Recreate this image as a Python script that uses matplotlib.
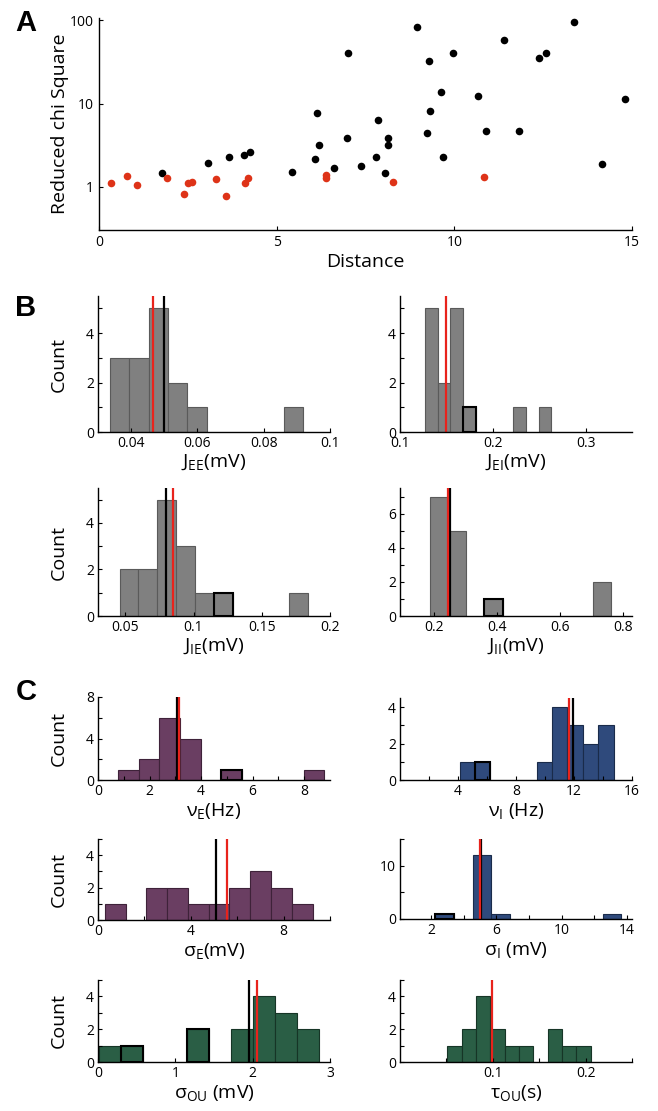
import matplotlib
matplotlib.use('Agg')
import matplotlib.pyplot as plt
import numpy as np

plt.rcParams['font.family'] = ['Open Sans', 'DejaVu Sans']
plt.rcParams['mathtext.default'] = 'regular'
plt.rcParams['axes.linewidth'] = 1.0

W, H = 658, 1111

# ---- panel A data: distance vs reduced chi square ----
black_dist = [1.78, 3.08, 3.66, 4.07, 4.24, 5.44, 6.09, 6.13, 6.20, 6.60, 6.98, 7.02,
              7.38, 7.79, 7.84, 8.06, 8.12, 8.13, 8.94, 9.23, 9.28, 9.32, 9.63, 9.69,
              9.96, 10.68, 10.90, 11.39, 11.82, 12.38, 12.57, 13.38, 14.16, 14.79]
black_chi = [1.47, 1.91, 2.25, 2.40, 2.61, 1.51, 2.15, 7.59, 3.13, 1.68, 3.87, 40.9,
             1.77, 2.29, 6.37, 1.47, 3.84, 3.13, 83.2, 4.37, 32.2, 8.17, 13.9, 2.25,
             40.9, 12.4, 4.61, 57.5, 4.61, 35.0, 40.6, 95.5, 1.85, 11.2]
red_dist = [0.34, 0.78, 1.07, 1.92, 2.40, 2.50, 2.63, 3.29, 3.58, 4.12, 4.20, 6.40,
            6.40, 8.28, 10.84]
red_chi = [1.11, 1.34, 1.05, 1.28, 0.82, 1.11, 1.14, 1.24, 0.77, 1.09, 1.26, 1.39,
           1.27, 1.13, 1.29]

# ---- histogram data (bin edges, counts, outlined bins, red / black lines) ----
jee_edges = [0.0337, 0.0395, 0.0453, 0.0512, 0.0570, 0.0628, 0.0687, 0.0745, 0.0803, 0.0862, 0.0920]
jee_counts = [3, 3, 5, 2, 1, 0, 0, 0, 0, 1]
jee_outl, jee_red, jee_black = [], 0.0467, 0.0498

jei_edges = [0.1271, 0.1407, 0.1543, 0.1679, 0.1814, 0.1950, 0.2086, 0.2221, 0.2357, 0.2493, 0.2629]
jei_counts = [5, 2, 5, 1, 0, 0, 0, 1, 0, 1]
jei_outl, jei_red, jei_black = [3], 0.150, None

jie_edges = [0.0458, 0.0596, 0.0735, 0.0875, 0.1012, 0.1147, 0.1287, 0.1425, 0.1563, 0.1699, 0.1838]
jie_counts = [2, 2, 5, 3, 1, 1, 0, 0, 0, 1]
jie_outl, jie_red, jie_black = [5], 0.0850, 0.0801

jii_edges = [0.186, 0.243, 0.301, 0.359, 0.417, 0.474, 0.532, 0.590, 0.647, 0.705, 0.763]
jii_counts = [7, 5, 0, 1, 0, 0, 0, 0, 0, 2]
jii_outl, jii_red, jii_black = [3], 0.243, 0.248

nue_edges = [0.78, 1.58, 2.38, 3.18, 3.98, 4.78, 5.58, 6.38, 7.18, 7.98, 8.78]
nue_counts = [1, 2, 6, 4, 0, 1, 0, 0, 0, 1]
nue_outl, nue_red, nue_black = [5], 3.13, 3.07

nui_edges = [4.11, 5.17, 6.24, 7.30, 8.36, 9.42, 10.49, 11.55, 12.61, 13.67, 14.74]
nui_counts = [1, 1, 0, 0, 0, 1, 4, 3, 2, 3]
nui_outl, nui_red, nui_black = [1], 11.63, 11.93

sge_edges = [0.31, 1.20, 2.09, 2.98, 3.88, 4.77, 5.66, 6.56, 7.45, 8.35, 9.25]
sge_counts = [1, 0, 2, 2, 1, 1, 2, 3, 2, 1]
sge_outl, sge_red, sge_black = [], 5.57, 5.07

sgi_edges = [2.26, 3.40, 4.54, 5.67, 6.81, 7.95, 9.09, 10.23, 11.37, 12.51, 13.64]
sgi_counts = [1, 0, 12, 1, 0, 0, 0, 0, 0, 1]
sgi_outl, sgi_red, sgi_black = [0], 4.97, 5.05

sou_edges = [0.013, 0.298, 0.583, 0.868, 1.153, 1.438, 1.723, 2.008, 2.293, 2.578, 2.863]
sou_counts = [1, 1, 0, 0, 2, 0, 2, 4, 3, 2]
sou_outl, sou_red, sou_black = [1, 4], 2.05, 1.95

tou_edges = [0.0509, 0.0664, 0.0818, 0.0973, 0.1128, 0.1283, 0.1437, 0.1592, 0.1747, 0.1901, 0.2056]
tou_counts = [1, 2, 4, 2, 1, 1, 0, 2, 1, 1]
tou_outl, tou_red, tou_black = [], 0.0989, None

GRAY, GRAY_E = '#808080', '#5a5a5a'
PURPLE, PURPLE_E = '#6a3e62', '#3e2239'
BLUE, BLUE_E = '#2f4a7c', '#1a2b4a'
GREEN, GREEN_E = '#2a5e45', '#163526'
RED = '#e8231c'
DOT_RED = '#de3318'


def box(l, t, r, b):
    return [l / W, 1 - b / H, (r - l) / W, (b - t) / H]


def ticks(ax, which, pos, labels):
    lab = [str(p) if p in labels else '' for p in pos]
    if which == 'x':
        ax.set_xticks(pos)
        ax.set_xticklabels(lab)
    else:
        ax.set_yticks(pos)
        ax.set_yticklabels(lab)


def hist_panel(rect, edges, counts, outl, red, black, fc, ec, xlim, xt, xl, ylim, yt, yl,
               xlabel, count=False):
    ax = fig.add_axes(box(*rect))
    edges = np.array(edges)
    counts = np.array(counts)
    left = edges[:-1]
    width = np.diff(edges)
    keep = counts > 0
    ax.bar(left[keep], counts[keep], width=width[keep], align='edge',
           color=fc, edgecolor=ec, linewidth=0.8)
    for i in outl:
        ax.bar(left[i], counts[i], width=width[i], align='edge', fill=False,
               edgecolor='black', linewidth=1.5)
    if black is not None:
        ax.plot([black, black], [0, ylim[1]], color='black', lw=1.6)
    if red is not None:
        ax.plot([red, red], [0, ylim[1]], color=RED, lw=1.6)
    ax.set_xlim(xlim)
    ax.set_ylim(ylim)
    ticks(ax, 'x', xt, xl)
    ticks(ax, 'y', yt, yl)
    for s in ('top', 'right'):
        ax.spines[s].set_visible(False)
    ax.tick_params(direction='in', length=3, labelsize=10, pad=3)
    ax.set_xlabel(xlabel, fontsize=14, labelpad=1)
    if count:
        ax.set_ylabel('Count', fontsize=14, labelpad=13)
    return ax


fig = plt.figure(figsize=(W / 100, H / 100), dpi=100)

# ---- panel A ----
axA = fig.add_axes(box(99, 18, 632, 230))
axA.scatter(black_dist, black_chi, s=30, color='black', zorder=3, linewidths=0)
axA.scatter(red_dist, red_chi, s=30, color=DOT_RED, zorder=3, linewidths=0)
axA.set_yscale('log')
axA.set_xlim(0, 15)
axA.set_ylim(0.3, 107)
axA.set_xticks([0, 5, 10, 15])
axA.set_xticklabels(['0', '5', '10', '15'])
axA.set_yticks([1, 10, 100])
axA.set_yticklabels(['1', '10', '100'])
axA.yaxis.set_minor_locator(matplotlib.ticker.NullLocator())
for s in ('top', 'right'):
    axA.spines[s].set_visible(False)
axA.tick_params(direction='in', length=3, labelsize=10)
axA.set_xlabel('Distance', fontsize=14, labelpad=2)
axA.set_ylabel('Reduced chi Square', fontsize=14, labelpad=1)

# ---- panel B ----
hist_panel((98, 296, 330, 432), jee_edges, jee_counts, jee_outl, jee_red, jee_black,
           GRAY, GRAY_E, (0.03, 0.1), [0.04, 0.06, 0.08, 0.1], [0.04, 0.06, 0.08, 0.1],
           (0, 5.5), [0, 1, 2, 3, 4, 5], [0, 2, 4], 'J$_{EE}$(mV)', count=True)
hist_panel((400, 296, 632, 432), jei_edges, jei_counts, jei_outl, jei_red, jei_black,
           GRAY, GRAY_E, (0.1, 0.35), [0.1, 0.2, 0.3], [0.1, 0.2, 0.3],
           (0, 5.5), [0, 1, 2, 3, 4, 5], [0, 2, 4], 'J$_{EI}$(mV)')
hist_panel((98, 488, 330, 616), jie_edges, jie_counts, jie_outl, jie_red, jie_black,
           GRAY, GRAY_E, (0.03, 0.2), [0.05, 0.1, 0.15, 0.2], [0.05, 0.1, 0.15, 0.2],
           (0, 5.5), [0, 1, 2, 3, 4, 5], [0, 2, 4], 'J$_{IE}$(mV)', count=True)
hist_panel((400, 488, 632, 616), jii_edges, jii_counts, jii_outl, jii_red, jii_black,
           GRAY, GRAY_E, (0.09, 0.83), [0.2, 0.4, 0.6, 0.8], [0.2, 0.4, 0.6, 0.8],
           (0, 7.5), [0, 1, 2, 3, 4, 5, 6, 7], [0, 2, 4, 6], 'J$_{II}$(mV)')

# ---- panel C ----
hist_panel((98, 697, 330, 780), nue_edges, nue_counts, nue_outl, nue_red, nue_black,
           PURPLE, PURPLE_E, (0, 9), [0, 1, 2, 3, 4, 5, 6, 7, 8], [0, 2, 4, 6, 8],
           (0, 8), [0, 2, 4, 6, 8], [0, 4, 8], 'ν$_{E}$(Hz)', count=True)
hist_panel((400, 698, 632, 780), nui_edges, nui_counts, nui_outl, nui_red, nui_black,
           BLUE, BLUE_E, (0, 16), [2, 4, 6, 8, 10, 12, 14, 16], [4, 8, 12, 16],
           (0, 4.5), [0, 1, 2, 3, 4], [0, 2, 4], 'ν$_{I}$ (Hz)')
hist_panel((98, 839, 330, 920), sge_edges, sge_counts, sge_outl, sge_red, sge_black,
           PURPLE, PURPLE_E, (0, 10), [0, 2, 4, 6, 8, 10], [0, 4, 8],
           (0, 5), [0, 1, 2, 3, 4, 5], [0, 2, 4], 'σ$_{E}$(mV)', count=True)
hist_panel((400, 839, 632, 919), sgi_edges, sgi_counts, sgi_outl, sgi_red, sgi_black,
           BLUE, BLUE_E, (0.1, 14.3), [2, 4, 6, 8, 10, 12, 14], [2, 6, 10, 14],
           (0, 15), [0, 5, 10, 15], [0, 10], 'σ$_{I}$ (mV)')
hist_panel((98, 980, 330, 1062), sou_edges, sou_counts, sou_outl, sou_red, sou_black,
           GREEN, GREEN_E, (0, 3), [0, 1, 2, 3], [0, 1, 2, 3],
           (0, 5), [0, 1, 2, 3, 4, 5], [0, 2, 4], 'σ$_{OU}$ (mV)', count=True)
hist_panel((400, 980, 632, 1062), tou_edges, tou_counts, tou_outl, tou_red, tou_black,
           GREEN, GREEN_E, (0, 0.25), [0.05, 0.1, 0.15, 0.2, 0.25], [0.1, 0.2],
           (0, 5), [0, 1, 2, 3, 4, 5], [0, 2, 4], 'τ$_{OU}$(s)')

# panel letters
for letter, x, y in [('A', 15, 9), ('B', 15, 294), ('C', 16, 678)]:
    fig.text(x / W, 1 - y / H, letter, fontsize=21, fontweight='bold',
             family='Liberation Sans', va='top', ha='left')

fig.savefig('out.png', dpi=100)
